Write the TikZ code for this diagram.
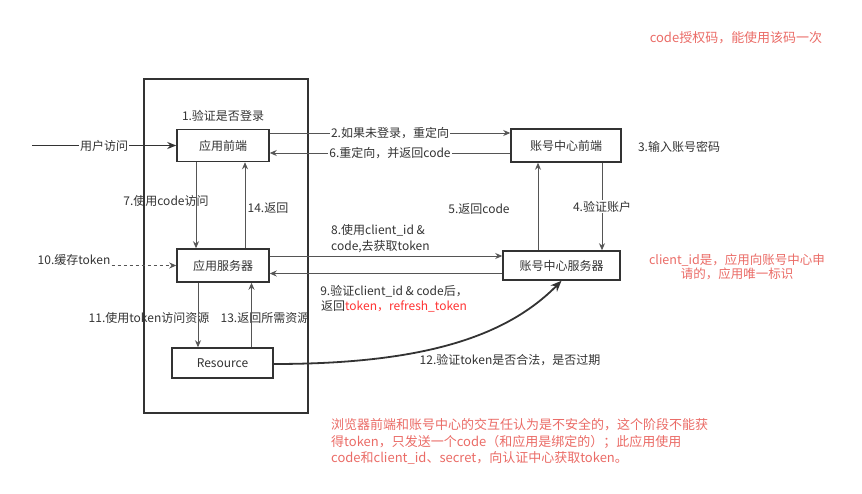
\documentclass[tikz,border=0pt]{standalone}
\usepackage{fontspec}
\setmainfont{Noto Sans CJK SC}
\usepackage{tikz}
\usetikzlibrary{arrows.meta,positioning,calc}
\definecolor{LineGray}{HTML}{333333}
\definecolor{ArrowGray}{HTML}{555555}
\definecolor{NoteRed}{HTML}{EA6B66}
\definecolor{TokenRed}{HTML}{FF3333}
\tikzset{
    % Base node style
    basenode/.style={
        draw=LineGray,
        fill=white,
        line width=1.5pt,
        align=center,
        text=LineGray,
        inner sep=0pt,
        font=\fontsize{12}{14}\selectfont
    },
    % App side box
    appnode/.style={
        basenode,
        minimum width=92pt,
        minimum height=32pt
    },
    % Account center box
    accnode/.style={
        basenode,
        minimum height=31pt
    },
    % Outer frame
    framebox/.style={
        draw=LineGray,
        line width=1.5pt,
        inner sep=0pt,
        minimum width=164pt,
        minimum height=334pt
    },
    % Step label
    steplabel/.style={
        text=LineGray,
        inner sep=1pt,
        font=\fontsize{12}{15}\selectfont
    },
    % Red note
    notelabel/.style={
        text=NoteRed,
        inner sep=0pt,
        font=\fontsize{13}{16.5}\selectfont
    },
    % Arrow styles
    myarrow/.style={
        -{Stealth[length=7pt,width=6pt]},
        line width=0.9pt,
        draw=ArrowGray
    },
    dasharrow/.style={
        myarrow,
        dashed
    },
    thickarrow/.style={
        -{Stealth[length=11pt,width=9pt]},
        line width=1.8pt,
        draw=LineGray
    }
}
\begin{document}
\begin{tikzpicture}[x=1pt,y=-1pt]
    \useasboundingbox (0,0) rectangle (862,494);

    % App frame
    \node[framebox] (frame) at (226,246) {};

    % App side
    \node[appnode] (fe) at (223,145.5) {应用前端};
    \node[appnode,minimum height=33pt] (srv) at (223,265.5) {应用服务器};
    \node[appnode,minimum width=101pt,minimum height=30pt] (res) at (222.5,363) {Resource};

    % Account center
    \node[accnode,minimum width=110pt,minimum height=33pt] (acfe) at (566,145.5) {账号中心前端};
    \node[accnode,minimum width=117pt,minimum height=29pt] (acsrv) at (561.5,265.5) {账号中心服务器};

    % Free ends and arrow starts
    \coordinate (user) at (32,145.5);
    \coordinate (s2) at ([yshift=12.5pt]fe.east);
    \coordinate (s6) at ([yshift=-7.5pt]acfe.west);
    \coordinate (s4) at ([xshift=36pt]acfe.south);
    \coordinate (s5) at ([xshift=-23.5pt]acsrv.north);
    \coordinate (s7) at ([xshift=-27pt]fe.south);
    \coordinate (s14) at ([xshift=22pt]srv.north);
    \coordinate (s8) at ([yshift=9.5pt]srv.east);
    \coordinate (s9) at ([yshift=-8pt]acsrv.west);
    \coordinate (s11) at ([xshift=-25pt]srv.south);
    \coordinate (s13) at ([xshift=29pt]res.north);

    % Labels
    \node[steplabel] (l1) at (223,116) {1.验证是否登录};
    \node[steplabel] (l3) at (679,147) {3.输入账号密码};
    \node[steplabel] (l5) at (479,209) {5.返回code};
    \node[steplabel] (l7) at (166,201) {7.使用code访问};
    \node[steplabel] (l14) at (268,208) {14.返回};
    \node[steplabel,align=left,anchor=west,font=\fontsize{12}{16}\selectfont] (l8) at (330,239) {8.使用client\_id \&\\code,去获取token};
    \node[steplabel,align=center,font=\fontsize{12}{15}\selectfont] (l9) at (394,298.5) {9.验证client\_id \& code后，\\返回\textcolor{TokenRed}{token，refresh\_token}};
    \node[steplabel,fill=white] (l10) at (74,260) {10.缓存token};
    \node[steplabel] (l11) at (149,318) {11.使用token访问资源};
    \node[steplabel] (l13) at (265,318) {13.返回所需资源};
    \node[steplabel] (l12) at (510,360) {12.验证token是否合法，是否过期};

    % Notes
    \node[notelabel] (n1) at (736,38) {code授权码，能使用该码一次};
    \node[notelabel,align=center,font=\fontsize{12.5}{14.5}\selectfont] (n2) at (737,267) {client\_id是，应用向账号中心申\\请的，应用唯一标识};
    \node[notelabel,align=left,anchor=west] (n3) at (331,441.5) {浏览器前端和账号中心的交互任认为是不安全的，这个阶段不能获\\得token，只发送一个code（和应用是绑定的）；此应用使用\\code和client\_id、secret，向认证中心获取token。};

    % Arrows
    \draw[thickarrow,-{Stealth[length=9pt,width=7pt]}] (user) -- node[steplabel,fill=white] {用户访问} (fe.west);
    \draw[myarrow] (s2) -- node[steplabel,fill=white] {2.如果未登录，重定向} (s2 -| acfe.west);
    \draw[myarrow] (s6) -- node[steplabel,fill=white] {6.重定向，并返回code} (s6 -| fe.east);
    \draw[myarrow] (s4) -- node[steplabel,fill=white] {4.验证账户} (s4 |- acsrv.north);
    \draw[myarrow] (s5) -- (s5 |- acfe.south);
    \draw[myarrow] (s7) -- (s7 |- srv.north);
    \draw[myarrow] (s14) -- (s14 |- fe.south);
    \draw[myarrow] (s8) -- (s8 -| acsrv.west);
    \draw[myarrow] (s9) -- (s9 -| srv.east);
    \draw[dasharrow] (l10.east |- srv.west) -- (srv.west);
    \draw[myarrow] (s11) -- (s11 |- res.north);
    \draw[myarrow] (s13) -- (s13 |- srv.south);
    \draw[thickarrow] ([yshift=-1pt]res.east) .. controls (420,364) and (505,338) .. (acsrv.south);
\end{tikzpicture}
\end{document}
